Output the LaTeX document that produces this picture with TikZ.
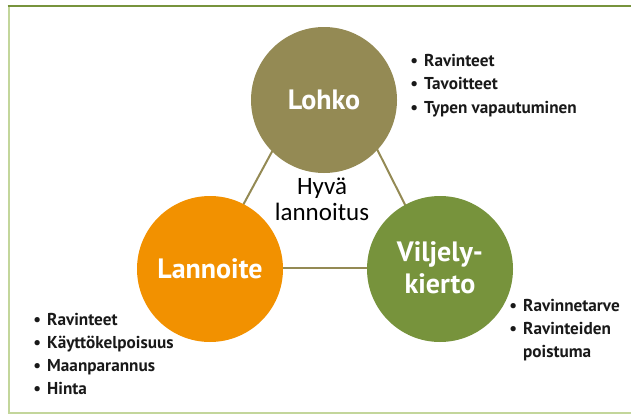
\documentclass[tikz,border=0pt]{standalone}
\usepackage{fontspec}
\setmainfont{PT Sans}
\newfontfamily\hyvafont{Carlito}

\definecolor{lohkocol}{HTML}{948A54}
\definecolor{lannoitecol}{HTML}{F29100}
\definecolor{viljelycol}{HTML}{77933C}
\definecolor{framecol}{HTML}{C3D69B}

\begin{document}
\begin{tikzpicture}[x=1pt, y=-1pt,
	blob/.style={circle, minimum size=146pt, inner sep=0pt, text=white, align=center,
		font=\bfseries\fontsize{28}{32}\selectfont},
	listitem/.style={anchor=base west, inner sep=0pt, text=black!90,
		font=\bfseries\fontsize{17.2}{19}\selectfont,
		execute at begin node={\llap{\textbullet\hspace{6pt}}}},
	listcont/.style={anchor=base west, inner sep=0pt, text=black!90,
		font=\bfseries\fontsize{17.2}{19}\selectfont},
	side/.style={draw=lohkocol, line width=2pt}]
\useasboundingbox (0, 0) rectangle (631, 415);

% frame
\draw[framecol, line width=2pt] (631, 412.5) -- (8.5, 412.5) -- (8.5, 6);
\draw[viljelycol, line width=2pt] (7.5, 6) -- (631, 6);

% triangle behind the circles
\coordinate (T) at (327, 50);
\coordinate (A) at (209, 268);
\coordinate (B) at (437, 268);
\draw[side] (T) -- (A);
\draw[side] (T) -- (B);
\draw[side] (A) -- (B);

\node at (324, 100)[blob, fill=lohkocol](L){Lohko};
\node at (210, 269)[blob, fill=lannoitecol](N){Lannoite};
\node at (440, 269)[blob, fill=viljelycol](V){\raisebox{3pt}{Viljely-}\\\raisebox{3pt}{kierto}};

\node at (322, 194)[anchor=base, inner sep=0pt, font=\hyvafont\fontsize{25}{26}\selectfont](H1){Hyvä};
\node at (322, 220)[anchor=base, inner sep=0pt, font=\hyvafont\fontsize{25}{26}\selectfont](H2){lannoitus};

\foreach \t [count=\i] in {Ravinteet,Tavoitteet,Typen vapautuminen}
{
	\pgfmathsetmacro{\yy}{66.5+23.4*(\i-1)};
	\node at (424, \yy)[listitem](LK\i){\t};
}

\foreach \t [count=\i] in {Ravinteet,Käyttökelpoisuus,Maanparannus,Hinta}
{
	\pgfmathsetmacro{\yy}{325+23.3*(\i-1)};
	\node at (47, \yy)[listitem](LN\i){\t};
}

\node at (523, 311.5)[listitem](VK1){Ravinnetarve};
\node at (523, 334.5)[listitem](VK2){Ravinteiden};
\node at (523, 357.5)[listcont](VK3){poistuma};

\end{tikzpicture}
\end{document}
